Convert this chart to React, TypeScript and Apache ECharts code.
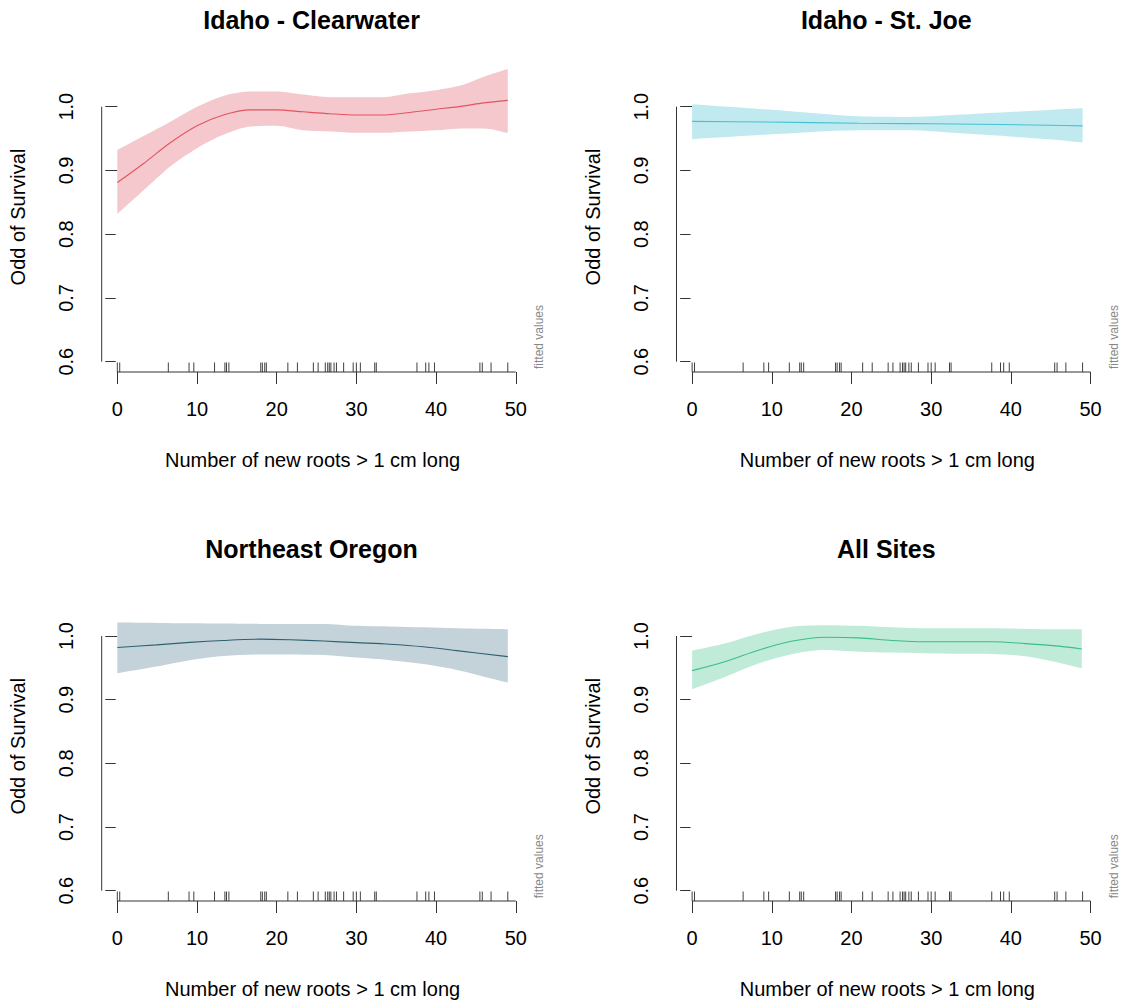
import React, { useEffect, useRef } from "react";
import * as echarts from "echarts";

const panelTitles = ["Idaho - Clearwater", "Idaho - St. Joe", "Northeast Oregon", "All Sites"];
const xTicks = [0, 10, 20, 30, 40, 50];
const yTicks = [0.6, 0.7, 0.8, 0.9, 1.0];
const xAxisTitle = "Number of new roots > 1 cm long";
const yAxisTitle = "Odd of Survival";
const sideNote = "fitted values";

const rugValues = [0, 0.3, 6.4, 9, 9.6, 12.2, 13.5, 13.7, 14, 18, 18.2, 18.5, 18.7, 21.4, 22.6, 24.6, 25.2, 26.1, 26.4, 26.6, 26.8, 27.2, 27.5, 28.4, 29.6, 30, 30.5, 32.3, 32.5, 37.6, 38.7, 39.1, 39.8, 45.5, 45.8, 46.9, 49];

// Idaho - Clearwater
const clearwaterX = [0, 3.3, 6.6, 10, 13.3, 16.7, 20, 23.3, 26.7, 30, 33.3, 36.7, 40, 43.3, 46, 49];
const clearwaterFit = [0.881, 0.911, 0.943, 0.970, 0.987, 0.995, 0.995, 0.992, 0.989, 0.987, 0.987, 0.991, 0.996, 1.001, 1.006, 1.010];
const clearwaterUpper = [0.932, 0.954, 0.976, 1.0, 1.017, 1.024, 1.024, 1.019, 1.015, 1.015, 1.015, 1.021, 1.026, 1.034, 1.047, 1.059];
const clearwaterLower = [0.832, 0.869, 0.906, 0.935, 0.956, 0.969, 0.970, 0.963, 0.961, 0.959, 0.959, 0.961, 0.963, 0.966, 0.966, 0.959];

// Idaho - St. Joe
const stJoeX = [0, 9.2, 20.9, 27.2, 32.8, 44.8, 49];
const stJoeFit = [0.977, 0.976, 0.974, 0.9735, 0.973, 0.971, 0.970];
const stJoeUpper = [1.004, 0.996, 0.985, 0.984, 0.987, 0.995, 0.9975];
const stJoeLower = [0.949, 0.956, 0.963, 0.963, 0.959, 0.949, 0.944];

// Northeast Oregon
const oregonX = [0, 4.9, 9.1, 13.3, 17.9, 21.7, 25.9, 30, 34.2, 38.4, 42.6, 49];
const oregonFit = [0.982, 0.986, 0.990, 0.993, 0.995, 0.994, 0.992, 0.9895, 0.987, 0.983, 0.977, 0.9676];
const oregonUpper = [1.021, 1.0205, 1.020, 1.0195, 1.019, 1.019, 1.019, 1.016, 1.015, 1.0136, 1.012, 1.0105];
const oregonLower = [0.9415, 0.952, 0.962, 0.9686, 0.971, 0.971, 0.970, 0.966, 0.962, 0.956, 0.9467, 0.9268];

// All Sites
const allX = [0, 4.2, 8.4, 12.6, 16.7, 20.9, 25.1, 29.3, 33.5, 37.6, 41.8, 46, 48.9];
const allFit = [0.9456, 0.960, 0.978, 0.992, 0.998, 0.997, 0.993, 0.991, 0.991, 0.991, 0.988, 0.984, 0.9796];
const allUpper = [0.977, 0.9886, 1.004, 1.0146, 1.017, 1.016, 1.0136, 1.012, 1.012, 1.012, 1.011, 1.0105, 1.0105];
const allLower = [0.9164, 0.936, 0.957, 0.9718, 0.978, 0.9754, 0.974, 0.973, 0.972, 0.9718, 0.968, 0.958, 0.9493];

const panels = [
  { x: clearwaterX, fit: clearwaterFit, upper: clearwaterUpper, lower: clearwaterLower, band: "#F4C8CC", line: "#E3545E" },
  { x: stJoeX, fit: stJoeFit, upper: stJoeUpper, lower: stJoeLower, band: "#C0EAF0", line: "#45C2D2" },
  { x: oregonX, fit: oregonFit, upper: oregonUpper, lower: oregonLower, band: "#C3D3D9", line: "#2F6072" },
  { x: allX, fit: allFit, upper: allUpper, lower: allLower, band: "#C0EBD8", line: "#3BBE86" },
];

const X_MIN = -1.96;
const X_MAX = 50.96;
const Y_MIN = 0.5838;
const Y_MAX = 1.07;

const FONT = "'Liberation Sans', Arial, Helvetica, sans-serif";
const AXIS_COLOR = "#333";

export default function App() {
  const ref = useRef<HTMLDivElement>(null);

  useEffect(() => {
    if (!ref.current) return;
    const chart = echarts.init(ref.current, null, { renderer: "svg" });

    const colOffset = 574.8;
    const rowOffset = 529.3;
    const baseLeft = 101.7;
    const baseTop = 62.1;
    const gridW = 421.7;
    const gridH = 309.9;

    const grids: any[] = [];
    const xAxes: any[] = [];
    const yAxes: any[] = [];
    const series: any[] = [];
    const graphics: any[] = [];

    panels.forEach((p, i) => {
      const col = i % 2;
      const row = Math.floor(i / 2);
      const left = baseLeft + col * colOffset;
      const top = baseTop + row * rowOffset;
      grids.push({ left, top, width: gridW, height: gridH, containLabel: false });

      xAxes.push({
        type: "value",
        gridIndex: i,
        min: X_MIN,
        max: X_MAX,
        axisLine: { show: false },
        splitLine: { show: false },
        axisTick: { show: true, customValues: xTicks, length: 12, lineStyle: { color: AXIS_COLOR, width: 1 } },
        axisLabel: {
          show: true,
          customValues: xTicks,
          margin: 27,
          color: "#000",
          fontSize: 20,
          fontFamily: FONT,
          formatter: (v: number) => String(Math.round(v)),
        },
        name: xAxisTitle,
        nameLocation: "middle",
        nameGap: 78,
        nameTextStyle: { color: "#000", fontSize: 20, fontFamily: FONT },
      });

      yAxes.push({
        type: "value",
        gridIndex: i,
        min: Y_MIN,
        max: Y_MAX,
        axisLine: { show: false },
        splitLine: { show: false },
        axisTick: { show: true, customValues: yTicks, length: 12, lineStyle: { color: AXIS_COLOR, width: 1 } },
        axisLabel: {
          show: true,
          customValues: yTicks,
          rotate: 90,
          margin: 26,
          color: "#000",
          fontSize: 20,
          fontFamily: FONT,
          formatter: (v: number) => v.toFixed(1),
        },
        name: yAxisTitle,
        nameLocation: "middle",
        nameGap: 74,
        nameTextStyle: { color: "#000", fontSize: 20, fontFamily: FONT },
      });

      const n = p.x.length;
      const ext = 0.2;
      const slope0 = (p.lower[1] - p.lower[0]) / (p.x[1] - p.x[0]);
      const slopeN = (p.lower[n - 1] - p.lower[n - 2]) / (p.x[n - 1] - p.x[n - 2]);
      // white mask under the lower bound, continued a hair past both ends along the edge so no seam remains
      const lowerMask = [
        [p.x[0] - ext, p.lower[0] - slope0 * ext],
        ...p.x.map((x, k) => [x, p.lower[k]]),
        [p.x[n - 1] + ext, p.lower[n - 1] + slopeN * ext],
      ];

      // confidence band: upper area filled down to the axis start, then lower area masked in white
      series.push({
        type: "line",
        xAxisIndex: i,
        yAxisIndex: i,
        data: p.x.map((x, k) => [x, p.upper[k]]),
        symbol: "none",
        smooth: 0.3,
        lineStyle: { width: 0, opacity: 0 },
        areaStyle: { color: p.band, opacity: 1, origin: "start" },
        silent: true,
        z: 1,
      });
      series.push({
        type: "line",
        xAxisIndex: i,
        yAxisIndex: i,
        data: lowerMask,
        symbol: "none",
        smooth: 0.3,
        lineStyle: { width: 0, opacity: 0 },
        areaStyle: { color: "#ffffff", opacity: 1, origin: "start" },
        silent: true,
        z: 2,
      });
      series.push({
        type: "line",
        xAxisIndex: i,
        yAxisIndex: i,
        data: p.x.map((x, k) => [x, p.fit[k]]),
        symbol: "none",
        smooth: 0.3,
        lineStyle: { width: 1.1, color: p.line },
        silent: true,
        z: 3,
      });
      // rug
      series.push({
        type: "scatter",
        xAxisIndex: i,
        yAxisIndex: i,
        data: rugValues.map((v) => [v, Y_MIN]),
        symbol: "rect",
        symbolSize: [1, 9.5],
        symbolOffset: [0, -4.75],
        itemStyle: { color: "#111" },
        silent: true,
        clip: false,
        z: 4,
      });
      // x axis line (R style, from first to last tick)
      series.push({
        type: "line",
        xAxisIndex: i,
        yAxisIndex: i,
        data: [[xTicks[0], Y_MIN], [xTicks[xTicks.length - 1], Y_MIN]],
        symbol: "none",
        lineStyle: { width: 1, color: AXIS_COLOR },
        silent: true,
        clip: false,
        z: 5,
      });
      // y axis line
      series.push({
        type: "line",
        xAxisIndex: i,
        yAxisIndex: i,
        data: [[X_MIN, yTicks[0]], [X_MIN, yTicks[yTicks.length - 1]]],
        symbol: "none",
        lineStyle: { width: 1, color: AXIS_COLOR },
        silent: true,
        clip: false,
        z: 5,
      });

      graphics.push({
        type: "text",
        x: left + gridW / 2 - 1,
        y: 20 + row * rowOffset,
        style: {
          text: panelTitles[i],
          font: `bold 25px ${FONT}`,
          fill: "#000",
          textAlign: "center",
          textVerticalAlign: "middle",
        },
      });
      graphics.push({
        type: "text",
        x: left + gridW + 16,
        y: top + gridH - 3,
        rotation: Math.PI / 2,
        style: {
          text: sideNote,
          font: `12px ${FONT}`,
          fill: "#888",
          textAlign: "left",
          textVerticalAlign: "middle",
        },
      });
    });

    chart.setOption({
      animation: false,
      backgroundColor: "#fff",
      grid: grids,
      xAxis: xAxes,
      yAxis: yAxes,
      series,
      graphic: graphics,
    });

    return () => chart.dispose();
  }, []);

  return (
    <div
      ref={ref}
      style={{ position: "absolute", left: 0, top: 0, width: 1121, height: 1000, background: "#fff" }}
    />
  );
}
